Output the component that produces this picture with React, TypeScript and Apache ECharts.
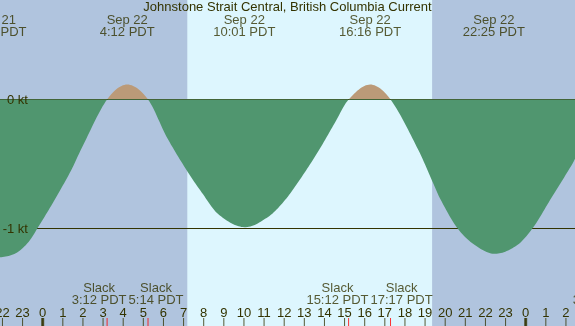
import React, { useEffect, useRef } from 'react';
import * as echarts from 'echarts';

const TITLE = 'Johnstone Strait Central, British Columbia Current';

// Tidal current curve (hours since Sep 22 00:00 PDT, knots)
const curveHours = [-2.35, -1.62, -1.13, -0.63, -0.27, 0.36, 0.86, 1.41, 2.02, 3.2, 4.2, 5.233, 6.16, 7.24, 7.9, 8.73, 10.02, 11.2, 12.04, 12.87, 13.7, 14.52, 15.2, 16.27, 17.283, 18.66, 19.49, 19.75, 20.57, 21.4, 22.42, 23.55, 24.38, 25.21, 26.12, 26.45, 27.7];
const curveKnots = [-1.228, -1.21, -1.17, -1.09, -1.0, -0.84, -0.705, -0.55, -0.35, 0, 0.116, 0, -0.29, -0.57, -0.72, -0.89, -0.99, -0.91, -0.78, -0.6, -0.4, -0.18, 0, 0.116, 0, -0.39, -0.68, -0.77, -0.99, -1.12, -1.196, -1.132, -0.99, -0.78, -0.55, -0.46, 0];

// Max current events (top labels)
const extremeHours = [-2.35, 4.2, 10.017, 16.267, 22.417];
const extremeDates = ['Sep 21', 'Sep 22', 'Sep 22', 'Sep 22', 'Sep 22'];
const extremeTimes = ['21:39 PDT', '4:12 PDT', '10:01 PDT', '16:16 PDT', '22:25 PDT'];

// Slack events (bottom labels)
const slackHours = [3.2, 5.233, 15.2, 17.283, 27.7];
const slackTimes = ['3:12 PDT', '5:14 PDT', '15:12 PDT', '17:17 PDT', '3:42 PDT'];

const midnightHours = [0, 24];
const hourTicks = [-2, -1, 0, 1, 2, 3, 4, 5, 6, 7, 8, 9, 10, 11, 12, 13, 14, 15, 16, 17, 18, 19, 20, 21, 22, 23, 24, 25, 26];
const knotTicks = [0, -1];

const sunriseHour = 7.185;
const sunsetHour = 19.35;

const X_MIN = -2.1217;
const X_MAX = 26.45;
const Y_MAX = 0.7713;
const Y_MIN = -1.7558;

const FONT = '"Liberation Sans", Arial, sans-serif';
const TEXT = '#333300';
const NIGHT = '#b0c4de';
const DAY = '#ddf6fe';
const EBB = '#50966f';
const FLOOD = '#bb9a78';

function measure(text: string): number {
  const ctx = document.createElement('canvas').getContext('2d');
  if (!ctx) return text.length * 7;
  ctx.font = `13px ${FONT}`;
  return ctx.measureText(text).width;
}

// Smooth (cubic Hermite) outline through the pixel positions of the data points.
function smoothOutline(pts: number[][]): number[][] {
  const n = pts.length;
  const m = pts.map((_, i) => {
    const a = pts[Math.max(0, i - 1)];
    const b = pts[Math.min(n - 1, i + 1)];
    return (b[1] - a[1]) / (b[0] - a[0]);
  });
  const out: number[][] = [];
  for (let i = 0; i < n - 1; i++) {
    const p0 = pts[i];
    const p1 = pts[i + 1];
    const dx = p1[0] - p0[0];
    const steps = Math.max(2, Math.ceil(Math.abs(dx) / 1.5));
    for (let s = 0; s < steps; s++) {
      const t = s / steps;
      const t2 = t * t;
      const t3 = t2 * t;
      const h00 = 2 * t3 - 3 * t2 + 1;
      const h10 = t3 - 2 * t2 + t;
      const h01 = -2 * t3 + 3 * t2;
      const h11 = t3 - t2;
      out.push([
        p0[0] + t * dx,
        h00 * p0[1] + h10 * dx * m[i] + h01 * p1[1] + h11 * dx * m[i + 1],
      ]);
    }
  }
  out.push(pts[n - 1]);
  return out;
}

export default function App() {
  const ref = useRef<HTMLDivElement>(null);
  useEffect(() => {
    if (!ref.current) return;
    const chart = echarts.init(ref.current, undefined, { renderer: 'svg' });

    const pxPerHour = 575 / (X_MAX - X_MIN);
    const widths = slackTimes.map((t) => Math.max(measure(t), measure('Slack')));
    const offsets = slackHours.map(() => 0);
    for (let i = 0; i < slackHours.length - 1; i++) {
      const dist = (slackHours[i + 1] - slackHours[i]) * pxPerHour;
      const need = (widths[i] + widths[i + 1]) / 2 + 2;
      if (need > dist) {
        const s = (need - dist) / 2;
        offsets[i] -= s;
        offsets[i + 1] += s;
      }
    }

    const labelStyle = {
      show: true,
      position: 'inside',
      align: 'center',
      verticalAlign: 'middle',
      color: TEXT,
      fontFamily: FONT,
      fontSize: 13,
      lineHeight: 12,
    };

    const isKnotTick = (v: number) => knotTicks.some((k) => Math.abs(k - v) < 1e-6);

    const renderCurrent = (params: any, api: any) => {
      if (params.dataIndex !== 0) return null;
      const pts = curveHours.map((hr, i) => api.coord([hr, curveKnots[i]]));
      const outline = smoothOutline(pts);
      const y0 = api.coord([curveHours[0], 0])[1];
      const H = api.getHeight();
      const f = Math.min(1, Math.max(0, y0 / H));
      const points = outline.concat([
        [outline[outline.length - 1][0], y0],
        [outline[0][0], y0],
      ]);
      return {
        type: 'polygon',
        shape: { points },
        style: {
          fill: new echarts.graphic.LinearGradient(
            0, 0, 0, H,
            [
              { offset: 0, color: FLOOD },
              { offset: f, color: FLOOD },
              { offset: f, color: EBB },
              { offset: 1, color: EBB },
            ],
            true
          ),
          stroke: null,
        },
      };
    };

    chart.setOption({
      animation: false,
      title: {
        text: TITLE,
        left: 'center',
        top: 0,
        padding: 0,
        textStyle: { color: TEXT, fontFamily: FONT, fontSize: 13, fontWeight: 'normal' },
        z: 30,
      },
      grid: {
        left: 0, right: 0, top: 0, bottom: 0,
        outerBoundsMode: 'none',
        containLabel: false,
        show: true, backgroundColor: NIGHT, borderWidth: 0,
      },
      xAxis: {
        type: 'value',
        min: X_MIN,
        max: X_MAX,
        splitNumber: 28,
        z: 20,
        axisLine: { show: false },
        splitLine: { show: false },
        axisTick: { show: false },
        axisLabel: {
          show: true, inside: true, margin: 7,
          showMinLabel: false, showMaxLabel: false,
          color: TEXT, fontFamily: FONT, fontSize: 13,
          formatter: (v: number) => String(((Math.round(v) % 24) + 24) % 24),
        },
      },
      yAxis: {
        type: 'value',
        min: Y_MIN,
        max: Y_MAX,
        splitNumber: 5,
        z: 20,
        axisLine: { show: false },
        axisTick: { show: false },
        splitLine: { show: false },
        axisLabel: {
          show: true, inside: true, margin: 28, align: 'right',
          showMinLabel: false, showMaxLabel: false,
          color: TEXT, fontFamily: FONT, fontSize: 13,
          formatter: (v: number) => (isKnotTick(v) ? `${Math.round(v)} kt` : ''),
        },
      },
      series: [
        {
          type: 'line',
          name: 'guides',
          z: 1,
          showSymbol: false,
          lineStyle: { width: 0 },
          data: [[X_MIN, 0]],
          markArea: {
            silent: true,
            z: 1,
            itemStyle: { color: DAY },
            data: [[{ xAxis: sunriseHour }, { xAxis: sunsetHour }]],
          },
          markLine: {
            silent: true,
            z: 2,
            symbol: 'none',
            label: { show: false },
            lineStyle: { color: TEXT, width: 1, type: 'solid' },
            data: knotTicks.map((k) => ({ yAxis: k })),
          },
        },
        {
          type: 'custom',
          name: 'current',
          z: 10,
          clip: true,
          silent: true,
          encode: { x: 0, y: 1 },
          renderItem: renderCurrent,
          data: curveHours.map((h, i) => [h, curveKnots[i]]),
        },
        {
          type: 'scatter',
          name: 'hourTicks',
          z: 15,
          clip: false,
          symbol: 'rect',
          symbolSize: [1, 8],
          symbolOffset: [0, -4],
          itemStyle: { color: TEXT },
          data: hourTicks.map((h) => [h, Y_MIN]),
        },
        {
          type: 'scatter',
          name: 'midnight',
          z: 16,
          clip: false,
          symbol: 'rect',
          symbolSize: [3, 8],
          symbolOffset: [0, -4],
          itemStyle: { color: TEXT },
          data: midnightHours.map((h) => [h, Y_MIN]),
        },
        {
          type: 'scatter',
          name: 'slackTicks',
          z: 16,
          clip: false,
          symbol: 'rect',
          symbolSize: [1, 8],
          symbolOffset: [0, -4],
          itemStyle: { color: '#ff0000' },
          data: slackHours.map((h) => [h, Y_MIN]),
        },
        {
          type: 'scatter',
          name: 'extremes',
          z: 20,
          clip: false,
          symbolSize: 0,
          label: {
            ...labelStyle,
            offset: [0, 25.7],
            formatter: (p: any) => `${extremeDates[p.dataIndex]}\n${extremeTimes[p.dataIndex]}`,
          },
          data: extremeHours.map((h) => [h, Y_MAX]),
        },
        {
          type: 'scatter',
          name: 'slack',
          z: 20,
          clip: false,
          symbolSize: 0,
          label: {
            ...labelStyle,
            formatter: (p: any) => `Slack\n${slackTimes[p.dataIndex]}`,
          },
          data: slackHours.map((h, i) => ({
            value: [h, Y_MIN],
            label: { offset: [offsets[i], -32.7] },
          })),
        },
      ],
    });
    return () => chart.dispose();
  }, []);
  return (
    <div
      ref={ref}
      style={{ position: 'fixed', left: 0, top: 0, width: 575, height: 326 }}
    />
  );
}
